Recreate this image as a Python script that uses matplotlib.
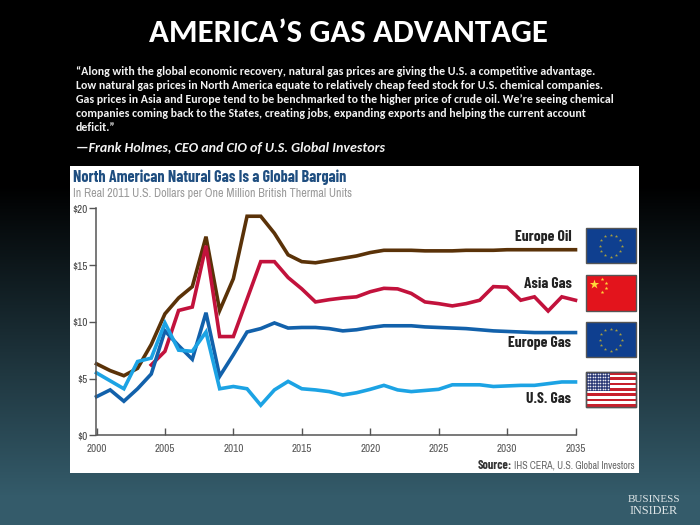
"""America's gas advantage slide: gas price chart on a dark gradient background."""

import matplotlib

matplotlib.use("Agg")
import matplotlib.pyplot as plt
import numpy as np
from matplotlib.patches import Rectangle

W, H = 700, 525

years = list(range(2000, 2036))
europe_oil = [6.3, 5.7, 5.25, 5.9, 8.0, 10.7, 12.1, 13.1, 17.5, 11.0, 13.8, 19.3,
              19.3, 17.8, 15.9, 15.3, 15.2, 15.4, 15.6, 15.8, 16.1, 16.3, 16.3, 16.3,
              16.25, 16.25, 16.25, 16.3, 16.3, 16.3, 16.35, 16.35, 16.35, 16.35, 16.35, 16.35]
asia_gas = [None, None, None, None, 6.2, 7.4, 11.0, 11.3, 16.7, 8.7, 8.7, 12.0,
            15.3, 15.3, 13.9, 12.9, 11.75, 11.95, 12.1, 12.2, 12.65, 12.95, 12.9, 12.5,
            11.75, 11.6, 11.4, 11.6, 11.9, 13.1, 13.05, 11.9, 12.2, 10.95, 12.2, 11.9]
europe_gas = [3.4, 4.0, 3.0, 4.1, 5.4, 9.2, 7.9, 6.7, 10.8, 5.2, 7.1, 9.1,
              9.4, 9.9, 9.45, 9.5, 9.5, 9.4, 9.2, 9.3, 9.5, 9.65, 9.65, 9.65,
              9.55, 9.5, 9.45, 9.4, 9.3, 9.2, 9.15, 9.1, 9.05, 9.05, 9.05, 9.05]
us_gas = [5.5, 4.8, 4.1, 6.5, 6.8, 9.9, 7.5, 7.4, 9.1, 4.1, 4.3, 4.1,
          2.65, 4.0, 4.75, 4.1, 4.0, 3.85, 3.55, 3.75, 4.05, 4.4, 4.0, 3.85,
          3.95, 4.05, 4.45, 4.45, 4.45, 4.3, 4.35, 4.4, 4.4, 4.55, 4.7, 4.7]

series_names = ["Europe Oil", "Asia Gas", "Europe Gas", "U.S. Gas"]
series_colors = ["#5a3208", "#c2123c", "#1261ab", "#1ca3e4"]

y_ticks = [0, 5, 10, 15, 20]
y_labels = ["$0", "$5", "$10", "$15", "$20"]
x_ticks = [2000, 2005, 2010, 2015, 2020, 2025, 2030, 2035]

title = "AMERICA\u2019S GAS ADVANTAGE"
quote_lines = [
    "\u201cAlong with the global economic recovery, natural gas prices are giving the U.S. a competitive advantage.",
    "Low natural gas prices in North America equate to relatively cheap feed stock for U.S. chemical companies.",
    "Gas prices in Asia and Europe tend to be benchmarked to the higher price of crude oil. We\u2019re seeing chemical",
    "companies coming back to the States, creating jobs, expanding exports and helping the current account",
    "deficit.\u201d",
]
attribution = "\u2014Frank Holmes, CEO and CIO of U.S. Global Investors"

SLIDE = ["Carlito", "Lato", "DejaVu Sans"]
NARROW = ["Archivo Narrow", "Liberation Sans", "DejaVu Sans"]
NARROW_BOLD = ["Barlow Condensed", "Liberation Sans", "DejaVu Sans"]


def pixel_axes(fig):
    ax = fig.add_axes([0, 0, 1, 1])
    ax.set_xlim(0, W)
    ax.set_ylim(H, 0)
    ax.axis("off")
    return ax


def draw_background(ax):
    top = np.array([0.0, 0.0, 0.0])
    bottom = np.array([0x34, 0x5b, 0x6a]) / 255
    stops = np.clip((np.arange(H) - 185) / 310, 0, 1)
    grad = top + stops[:, None] * (bottom - top)
    ax.imshow(grad[:, None, :], extent=[0, W, H, 0], aspect="auto", zorder=0)


def draw_eu_flag(ax, x0, y0, x1, y1):
    ax.add_patch(Rectangle((x0, y0), x1 - x0, y1 - y0, fc="#0f3f8f", ec="#555555", lw=1, zorder=3))
    angles = np.linspace(0, 2 * np.pi, 12, endpoint=False)
    cx, cy = (x0 + x1) / 2, (y0 + y1) / 2
    ax.scatter(cx + 11 * np.cos(angles), cy + 11 * np.sin(angles), marker="*", s=6,
               color="#a89f40", linewidths=0, zorder=4)


def draw_china_flag(ax, x0, y0, x1, y1):
    ax.add_patch(Rectangle((x0, y0), x1 - x0, y1 - y0, fc="#e3141c", ec="#555555", lw=1, zorder=3))
    ax.scatter([x0 + 8.8], [y0 + 9], marker="*", s=50, color="#ffd83a", linewidths=0, zorder=4)
    ax.scatter([x0 + 16.8, x0 + 20, x0 + 20, x0 + 16.8], [y0 + 4, y0 + 8.3, y0 + 12.7, y0 + 16.7],
               marker="*", s=8, color="#ffd83a", linewidths=0, zorder=4)


def draw_us_flag(ax, x0, y0, x1, y1):
    ax.add_patch(Rectangle((x0, y0), x1 - x0, y1 - y0, fc="white", ec="#555555", lw=1, zorder=3))
    h = (y1 - y0) / 13
    for i in range(0, 13, 2):
        ax.add_patch(Rectangle((x0, y0 + i * h), x1 - x0, h, fc="#c8202c", lw=0, zorder=4))
    ax.add_patch(Rectangle((x0, y0), (x1 - x0) * 0.48, h * 7, fc="#2c3a78", lw=0, zorder=5))
    sx, sy = np.meshgrid(np.linspace(x0 + 2, x0 + 22, 9), np.linspace(y0 + 2, y0 + 17, 6))
    ax.scatter(sx.ravel(), sy.ravel(), s=1.5, color="#e8e8f0", linewidths=0, zorder=6)
    ax.add_patch(Rectangle((x0, y0), x1 - x0, y1 - y0, fc="none", ec="#555555", lw=1, zorder=7))


def main():
    fig = plt.figure(figsize=(W / 100, H / 100), dpi=100, facecolor="black")
    bg = pixel_axes(fig)
    draw_background(bg)
    bg.set_xlim(0, W)
    bg.set_ylim(H, 0)

    bg.text(348.5, 33, title, color="white", fontsize=23.7, fontweight="bold", family=SLIDE,
            ha="center", va="center")
    for line, y in zip(quote_lines, [71.5, 85.5, 99.5, 113.5, 127.5]):
        bg.text(76, y, line, color="#f2f2f2", fontsize=8.57, fontweight="bold", family=SLIDE,
                ha="left", va="center")
    bg.text(76, 147.5, attribution, color="#f2f2f2", fontsize=10.1, fontweight="bold",
            style="italic", family=SLIDE, ha="left", va="center")

    bg.add_patch(Rectangle((70, 166), 569, 307, fc="white", ec="none", zorder=1))
    bg.text(73, 177.5, "North American Natural Gas Is a Global Bargain", color="#1f4e80",
            fontsize=11.6, fontweight="bold", family=NARROW_BOLD, ha="left", va="center", zorder=2)
    bg.text(73, 193.5, "In Real 2011 U.S. Dollars per One Million British Thermal Units", color="#9a9a9a",
            fontsize=8.7, family=NARROW, ha="left", va="center", zorder=2)

    draw_eu_flag(bg, 585.5, 228, 636, 263)
    draw_china_flag(bg, 585.5, 275, 636, 310.5)
    draw_eu_flag(bg, 585.5, 322, 636, 357)
    draw_us_flag(bg, 585.5, 372, 636, 406.5)

    label_style = dict(color="#222222", fontsize=11.2, fontweight="bold", family=NARROW_BOLD,
                       ha="right", va="center", zorder=2)
    for name, y in zip(series_names, [237.5, 283.5, 343.5, 399]):
        bg.text(571.5, y, name, **label_style)

    bg.text(512, 465.5, "Source:", color="#333333", fontsize=8.8, fontweight="bold", family=NARROW_BOLD,
            ha="right", va="center", zorder=2)
    bg.text(514, 465.5, "IHS CERA, U.S. Global Investors", color="#666666", fontsize=7.2, family=NARROW,
            ha="left", va="center", zorder=2)

    bg.text(653.5, 499, "BUSINESS", color="#dfe6e8", fontsize=8.0, family="Liberation Serif",
            ha="center", va="center")
    bg.text(654, 511.5, "INSIDER", color="#dfe6e8", fontsize=8.8, family="Liberation Serif",
            ha="center", va="center")

    # chart axes sit on the pixel positions of the $0-$20 and 2000-2035 ticks
    left, right, top, bottom = 96.5, 575.5, 208.3, 435.3
    ax = fig.add_axes([left / W, 1 - bottom / H, (right - left) / W, (bottom - top) / H])
    ax.patch.set_alpha(0)
    ax.set_xlim(2000, 2035)
    ax.set_ylim(0, 20)
    for values, color in zip([europe_oil, asia_gas, europe_gas, us_gas], series_colors):
        y = [np.nan if v is None else v for v in values]
        ax.plot(years, y, color=color, linewidth=2.6, solid_joinstyle="miter", clip_on=False)

    ax.spines[["top", "right"]].set_visible(False)
    ax.spines["left"].set_color("#555555")
    ax.spines["bottom"].set_color("#555555")
    ax.spines["left"].set_linewidth(1.1)
    ax.spines["bottom"].set_linewidth(1.1)
    ax.set_yticks(y_ticks, y_labels, family=NARROW, fontsize=8, color="#444444")
    ax.set_xticks(x_ticks, [str(t) for t in x_ticks], family=NARROW, fontsize=8, color="#555555")
    ax.tick_params(axis="y", direction="out", length=5, width=1, color="#555555", pad=1.5)
    ax.tick_params(axis="x", direction="in", length=5, width=1, color="#555555", pad=6)

    fig.savefig("out.png", dpi=100, facecolor="black")
    plt.close(fig)


if __name__ == "__main__":
    main()
